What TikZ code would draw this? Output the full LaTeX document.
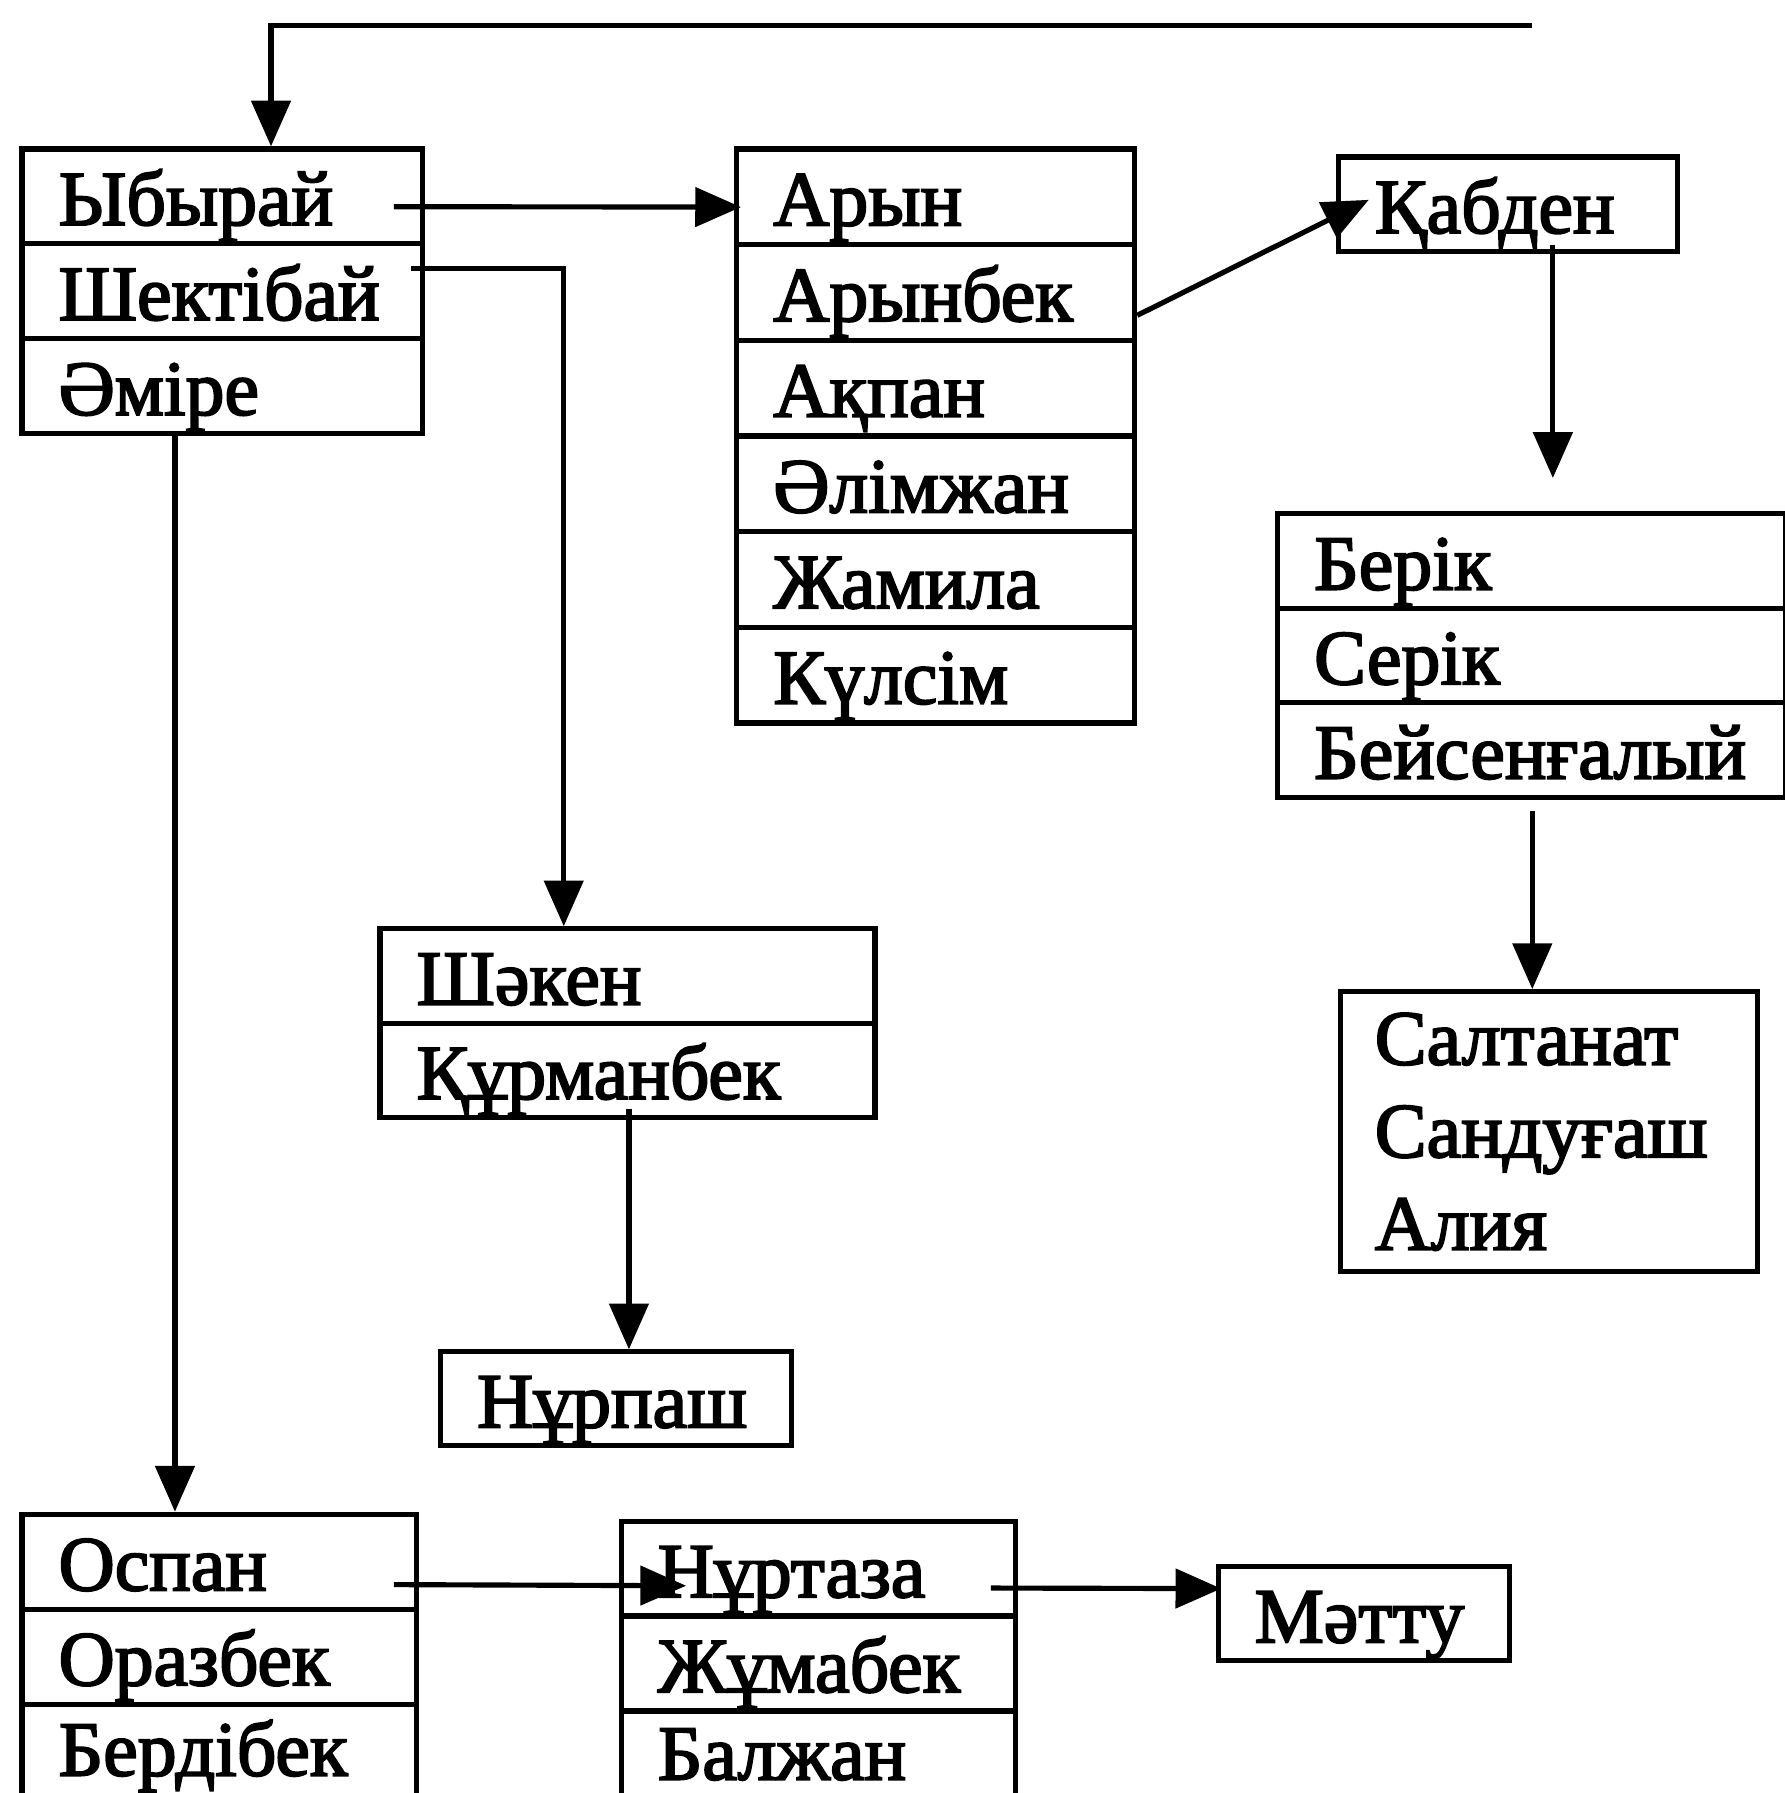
\documentclass[tikz,border=0pt]{standalone}
\usepackage{fontspec}
\setmainfont{Liberation Serif}[FakeBold=2.5]
\usetikzlibrary{arrows.meta}
\begin{document}
\begin{tikzpicture}[x=1pt,y=-1pt,
  boxbase/.style={draw, line width=4.5pt, anchor=north west, inner xsep=32pt, inner ysep=0pt,
    align=left, font=\fontsize{68}{81}\selectfont},
  cell/.style={boxbase, text height=60pt, text depth=10pt},
  arr/.style={line width=4.5pt, -{Triangle[length=40pt,width=34pt]}}]
\path[use as bounding box, clip] (0,0) rectangle (1561,1568);
\fill[white] (0,0) rectangle (1561,1568);
% Box A
\node[cell, text width=286pt, minimum height=83pt] (A1) at (17,128) {Ыбырай};
\node[cell, text width=286pt, minimum height=83pt] (A2) at (17,211) {Шектібай};
\node[cell, text width=286pt, minimum height=83pt] (A3) at (17,294) {Әміре};
% Box B
\node[cell, text width=284pt, minimum height=83.7pt] (B1) at (642,128) {Арын};
\node[cell, text width=284pt, minimum height=83.7pt] (B2) at (642,211.7) {Арынбек};
\node[cell, text width=284pt, minimum height=83.7pt] (B3) at (642,295.3) {Ақпан};
\node[cell, text width=284pt, minimum height=83.7pt] (B4) at (642,379) {Әлімжан};
\node[cell, text width=284pt, minimum height=83.7pt] (B5) at (642,462.7) {Жамила};
\node[cell, text width=284pt, minimum height=83.7pt] (B6) at (642,546.3) {Күлсім};
% Qabden
\node[cell, text width=233pt, minimum height=83pt] (K) at (1168,135) {Қабден};
% Box C
\node[cell, text width=380pt, minimum height=82.7pt] (C1) at (1115,447) {Берік};
\node[cell, text width=380pt, minimum height=82.7pt] (C2) at (1115,529.7) {Серік};
\node[cell, text width=380pt, minimum height=82.7pt] (C3) at (1115,612.3) {Бейсенғалый};
% Box D
\node[boxbase, text width=305pt, minimum height=245pt, inner xsep=30pt] (D) at (1170,865) {Салтанат\\Сандуғаш\\Алия};
% Box E
\node[cell, text width=369pt, minimum height=82.5pt] (E1) at (330,810) {Шәкен};
\node[cell, text width=369pt, minimum height=82.5pt] (E2) at (330,892.5) {Құрманбек};
% Box F
\node[cell, text width=243pt, minimum height=82pt] (F) at (383,1180) {Нұрпаш};
% Box G
\node[cell, text width=281pt, minimum height=83pt] (G1) at (17,1322) {Оспан};
\node[cell, text width=281pt, minimum height=83pt] (G2) at (17,1405) {Оразбек};
\node[cell, text width=281pt, minimum height=83pt, text depth=18pt] (G3) at (17,1488) {Бердібек};
% Box H
\node[cell, text width=281pt, minimum height=83pt] (H1) at (541,1328) {Нұртаза};
\node[cell, text width=281pt, minimum height=83pt] (H2) at (541,1411) {Жұмабек};
\node[cell, text width=281pt, minimum height=83pt, text depth=24pt] (H3) at (541,1494) {Балжан};
% Matty
\node[cell, text width=191pt, minimum height=82pt] (I) at (1063,1368) {Мәтту};
% connectors
\coordinate (topend) at (1340,22);
\draw[arr] (topend) -| ([xshift=220pt]A1.north west);
\draw[arr] ([xshift=-27pt,yshift=-9pt]A1.east) -- ([xshift=6pt,yshift=-9pt]B1.west);
\draw[arr] ([xshift=-12pt,yshift=20pt]A2.east) -| ([xshift=163pt]E1.north west);
\draw[arr] ([xshift=136pt]A3.south west) -- ([xshift=136pt]G1.north west);
\draw[arr] ([yshift=-20pt]B2.east) -- ([xshift=29pt,yshift=4pt]K.west);
\coordinate (kend) at (1358,418);
\draw[arr] ([xshift=190pt,yshift=8pt]K.south west) -- (kend);
\draw[arr] ([xshift=225pt,yshift=-10pt]C3.south west) -- ([xshift=170pt]D.north west);
\draw[arr] ([xshift=220pt,yshift=10pt]E2.south west) -- ([xshift=167pt]F.north west);
\draw[arr] ([xshift=-22pt,yshift=-20pt]G1.east) -- ([xshift=59pt,yshift=-15pt]H1.west);
\draw[arr] ([xshift=-24pt,yshift=-17pt]H1.east) -- ([xshift=5pt,yshift=22pt]I.west);
\end{tikzpicture}
\end{document}
